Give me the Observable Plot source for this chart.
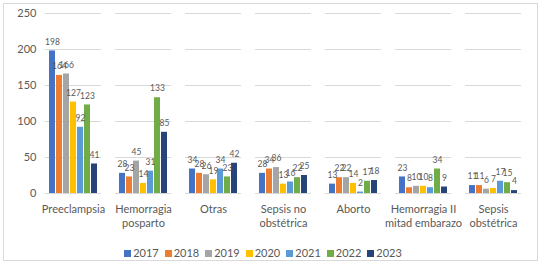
<!DOCTYPE html>
<html><head><meta charset="utf-8">
<script src="https://cdn.jsdelivr.net/npm/d3@7"></script>
<script src="https://cdn.jsdelivr.net/npm/@observablehq/plot@0.6"></script>
<style>
body{margin:0;background:#fff;font-family:Lato,"Liberation Sans",sans-serif;}
#wrap{position:relative;width:548px;height:265px;overflow:hidden;}
#frame{position:absolute;left:3px;top:3px;width:535px;height:258px;border:1px solid #d9d9d9;box-sizing:border-box;}
#chart{position:absolute;left:0;top:0;}
#legend{position:absolute;left:0;width:548px;top:246px;display:flex;justify-content:center;font-size:11px;color:#595959;line-height:14px;padding-right:22px;box-sizing:border-box;}
#legend .it{display:flex;align-items:center;margin:0 3px;}
#legend .sw{width:7px;height:7px;margin-right:2px;}
</style></head>
<body><div id="wrap"><div id="frame"></div><div id="chart"></div><div id="legend"></div></div>
<script>
const categories = ["Preeclampsia","Hemorragia posparto","Otras","Sepsis no obstétrica","Aborto","Hemorragia II mitad embarazo","Sepsis obstétrica"];
const categoryLabels = ["Preeclampsia","Hemorragia\nposparto","Otras","Sepsis no\nobstétrica","Aborto","Hemorragia II\nmitad embarazo","Sepsis\nobstétrica"];
const years = ["2017","2018","2019","2020","2021","2022","2023"];
const colors = ["#4472C4","#ED7D31","#A5A5A5","#FFC000","#5B9BD5","#70AD47","#264478"];
const v2017 = [198,28,34,28,13,23,11];
const v2018 = [164,23,28,34,22,8,11];
const v2019 = [166,45,26,36,22,10,6];
const v2020 = [127,14,19,13,14,10,7];
const v2021 = [92,31,34,16,2,8,17];
const v2022 = [123,133,23,22,17,34,15];
const v2023 = [41,85,42,25,18,9,4];
const yTicks = [0,50,100,150,200,250];

const series = [v2017,v2018,v2019,v2020,v2021,v2022,v2023];
const data = [];
categories.forEach((c,i)=>years.forEach((y,j)=>data.push({cat:c,year:y,value:series[j][i]})));
const labelMap = new Map(categories.map((c,i)=>[c,categoryLabels[i]]));

const chart = Plot.plot({
  width:548, height:235,
  marginTop:13, marginBottom:42, marginLeft:37, marginRight:20,
  style:{fontFamily:"Lato, 'Liberation Sans', sans-serif", color:"#595959", background:"transparent"},
  fx:{domain:categories, paddingInner:0.2, paddingOuter:0.1, axis:null},
  x:{domain:years, padding:0.12, axis:null},
  y:{domain:[0,250], axis:null},
  color:{domain:years, range:colors},
  marks:[
    Plot.gridY(yTicks,{stroke:"#d9d9d9", strokeOpacity:1}),
    Plot.axisY({ticks:yTicks, tickSize:0, tickPadding:9, fontSize:11, label:null, fill:"#595959"}),
    Plot.barY(data,{fx:"cat", x:"year", y:"value", fill:"year"}),
    Plot.text(data,{fx:"cat", x:"year", y:"value", text:d=>String(d.value), dy:-9, fontSize:8.5, fill:"#595959"}),
    Plot.text(categories,{fx:d=>d, text:d=>labelMap.get(d), frameAnchor:"bottom", lineAnchor:"top", dy:9, fontSize:11, lineHeight:1.3, fill:"#595959"})
  ]
});
document.getElementById("chart").appendChild(chart);
const color = chart.scale("color");
const lg = document.getElementById("legend");
years.forEach(y=>{
  const it=document.createElement("div");it.className="it";
  const sw=document.createElement("span");sw.className="sw";sw.style.background=color.apply(y);
  const t=document.createElement("span");t.textContent=y;
  it.appendChild(sw);it.appendChild(t);lg.appendChild(it);
});
</script></body></html>
